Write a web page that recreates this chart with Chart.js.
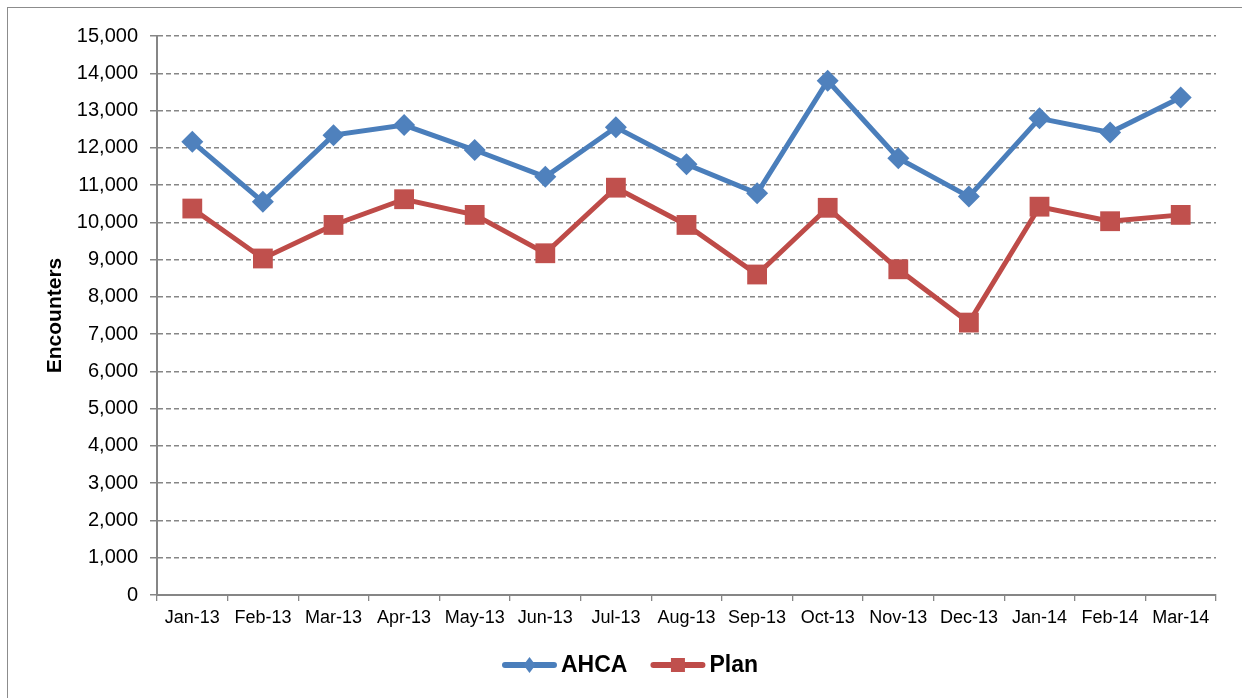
<!DOCTYPE html>
<html>
<head>
<meta charset="utf-8">
<title>Encounters</title>
<script src="https://cdn.jsdelivr.net/npm/chart.js@4.4.1/dist/chart.umd.min.js"></script>
<style>
  html, body { margin: 0; padding: 0; background: #fff; }
  #frame {
    position: absolute; left: 7px; top: 7px; width: 1300px; height: 760px;
    border-left: 1px solid #8c8c8c; border-top: 1px solid #8c8c8c;
  }
  #wrap { position: absolute; left: 0; top: 0; width: 1242px; height: 698px; }
</style>
</head>
<body>
<div id="frame"></div>
<div id="wrap"><canvas id="encounters-chart"></canvas></div>
<script>
// Monthly encounters, AHCA vs plan
var months = ["Jan-13", "Feb-13", "Mar-13", "Apr-13", "May-13", "Jun-13", "Jul-13", "Aug-13",
              "Sep-13", "Oct-13", "Nov-13", "Dec-13", "Jan-14", "Feb-14", "Mar-14"];
var ahca = [12160, 10550, 12340, 12610, 11940, 11220, 12550, 11560,
            10780, 13800, 11720, 10690, 12790, 12410, 13350];
var plan = [10370, 9030, 9930, 10620, 10200, 9170, 10930, 9930,
            8600, 10390, 8740, 7310, 10420, 10030, 10200];

var gray = '#868686';

// Excel-style legend: short line with the series marker, then bold name
var lineLegend = {
  id: 'lineLegend',
  afterDraw: function(chart) {
    var ctx = chart.ctx;
    var sets = chart.data.datasets;
    var swatch = 55, gap = 4, between = 23, y = 665;
    ctx.save();
    ctx.font = 'bold 23px "Liberation Sans", Arial, sans-serif';
    var total = 0;
    sets.forEach(function(ds, i) {
      total += swatch + gap + ctx.measureText(ds.label).width + (i ? between : 0);
    });
    var x = chart.width / 2 + 9 - total / 2;
    sets.forEach(function(ds) {
      ctx.strokeStyle = ds.borderColor;
      ctx.lineWidth = 6;
      ctx.lineCap = 'round';
      ctx.beginPath();
      ctx.moveTo(x + 3, y);
      ctx.lineTo(x + swatch - 3, y);
      ctx.stroke();
      var cx = x + swatch / 2;
      ctx.fillStyle = ds.pointBackgroundColor;
      ctx.beginPath();
      if (ds.pointStyle === 'rectRot') {
        ctx.moveTo(cx - 6, y); ctx.lineTo(cx, y - 8);
        ctx.lineTo(cx + 6, y); ctx.lineTo(cx, y + 8);
        ctx.closePath();
      } else {
        ctx.rect(cx - 7, y - 7, 14, 14);
      }
      ctx.fill();
      ctx.fillStyle = '#000';
      ctx.textBaseline = 'middle';
      ctx.fillText(ds.label, x + swatch + gap, y + 1);
      x += swatch + gap + ctx.measureText(ds.label).width + between;
    });
    ctx.restore();
  }
};

var ctx = document.getElementById('encounters-chart');

var chartData = {
  labels: months,
  datasets: [{
    label: 'AHCA',
    data: ahca,
    borderColor: '#4A7EBB',
    borderWidth: 5,
    pointStyle: 'rectRot',
    pointRadius: 11,
    pointBackgroundColor: '#4F81BD',
    pointBorderWidth: 0,
    tension: 0
  }, {
    label: 'Plan',
    data: plan,
    borderColor: '#BE4B48',
    borderWidth: 5,
    pointStyle: 'rect',
    pointRadius: 14,
    pointBackgroundColor: '#C0504D',
    pointBorderWidth: 0,
    tension: 0
  }]
};

var chartOptions = {
  responsive: true,
  maintainAspectRatio: false,
  animation: false,
  layout: { padding: { left: 43, right: 26, top: 36, bottom: 0 } },
  plugins: {
    legend: { display: false },
    tooltip: { enabled: false }
  },
  scales: {
    x: {
      offset: true,
      grid: { display: true, offset: true, drawOnChartArea: false, tickLength: 6, color: gray, lineWidth: 1.3 },
      border: { color: gray, width: 2 },
      ticks: {
        color: '#000', padding: 6, maxRotation: 0, autoSkip: false,
        font: { family: '"Liberation Sans", Arial, sans-serif', size: 18 }
      },
      afterFit: function(scale) { scale.height = 103; }
    },
    y: {
      min: 0,
      max: 15000,
      ticks: {
        stepSize: 1000, color: '#000', padding: 12,
        font: { family: '"Liberation Sans", Arial, sans-serif', size: 20 }
      },
      grid: { color: gray, lineWidth: 1.5, tickLength: 7 },
      border: { color: gray, width: 2, dash: [5, 3] },
      title: {
        display: true,
        text: 'Encounters',
        color: '#000',
        padding: 0,
        font: { family: '"Liberation Sans", Arial, sans-serif', size: 21, weight: 'bold' }
      },
      afterFit: function(scale) { scale.width = 114; }
    }
  }
};

var config = {
  type: 'line',
  data: chartData,
  options: chartOptions,
  plugins: [lineLegend]
};

// Create the chart
var encountersChart = new Chart(ctx, config);
</script>
</body>
</html>
